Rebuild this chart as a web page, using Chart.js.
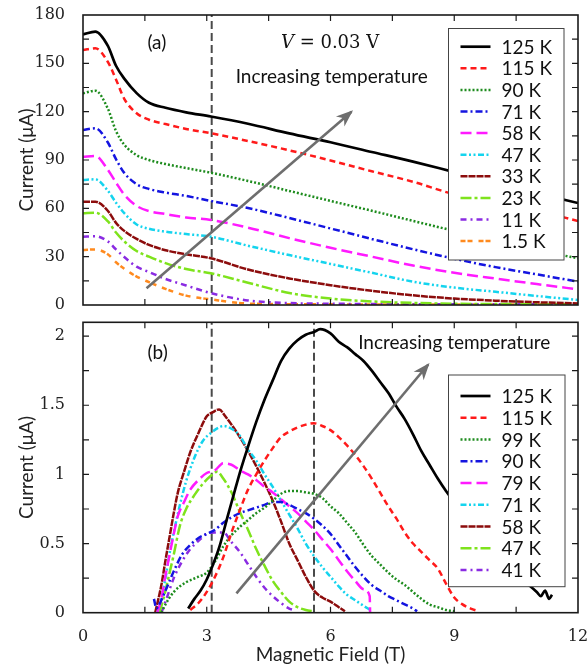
<!DOCTYPE html>
<html>
<head>
<meta charset="utf-8">
<script src="https://cdn.jsdelivr.net/npm/chart.js@4.4.1/dist/chart.umd.min.js"></script>
<style>
  body { margin: 0; background: #fff; width: 587px; height: 670px; position: relative; overflow: hidden; }
  #boxA { position: absolute; left: 0; top: 0; width: 587px; height: 318px; }
  #boxB { position: absolute; left: 0; top: 318px; width: 587px; height: 352px; }
</style>
</head>
<body>
<div id="boxA"><canvas id="panelA"></canvas></div>
<div id="boxB"><canvas id="panelB"></canvas></div>
<script>
// ---- panel (a): current vs field, V = 0.03 V ----
const fieldA = [0, 0.3, 0.6, 0.8, 1.0, 1.3, 1.6, 2.0, 2.5, 3.1, 4, 5, 6, 7, 8, 9, 10, 11, 12];
const tempsA = ['125 K', '115 K', '90 K', '71 K', '58 K', '47 K', '33 K', '23 K', '11 K', '1.5 K'];
const currentA125 = [168, 169.7, 161, 148.5, 140.5, 131.5, 125.5, 122.4, 119.6, 117, 112.5, 106.5, 101, 95, 89, 82.5, 76, 69.5, 63.3];
const currentA115 = [158.3, 159.3, 151, 140, 128, 119, 115, 112.3, 109.3, 106.6, 101.8, 96, 89.7, 83, 76.5, 68.7, 63.7, 58.6, 52.1];
const currentA90 = [131.4, 133, 122, 108, 99.5, 93, 90, 87.5, 85, 82.1, 77, 70.8, 64.6, 58.5, 52.2, 46, 40, 34, 29];
const currentA71 = [108.6, 109.7, 101, 90.5, 82, 75, 72, 69.8, 67.7, 64.6, 60.2, 54, 47.5, 41, 34.6, 28.7, 23.5, 19, 14.5];
const currentA58 = [92, 92.5, 84, 76, 68.5, 61.5, 58.3, 56.5, 54.3, 52.8, 48, 41.5, 35.5, 30, 24.5, 20, 16.4, 13, 9.7];
const currentA47 = [77.6, 78, 71, 63.5, 57, 50, 47.3, 45.5, 44, 42.4, 36.8, 31, 25.5, 20, 14.5, 10.8, 8.2, 5.6, 3.1];
const currentA33 = [64.1, 64.1, 58.5, 51, 46, 41, 37.3, 34, 31.5, 29, 22, 16.5, 12.3, 8.8, 6, 4, 2.7, 1.7, 1];
const currentA23 = [56.9, 57.3, 52, 45, 39.5, 33.5, 30, 26, 22.3, 19.7, 13.8, 7.5, 4, 2.2, 1.3, 0.8, 0.6, 0.5, 0.5];
const currentA11 = [42.4, 42.7, 39.5, 34.5, 29.8, 23.8, 20.5, 16.2, 12.1, 7.4, 2.8, 1.2, 0.8, 0.6, 0.5, 0.5, 0.5, 0.5, 0.5];
const currentA1p5 = [34.1, 34.5, 31.5, 26.5, 22.5, 17.6, 14.2, 10, 5.8, 3.5, 0.9, 0.5, 0.4, 0.3, 0.3, 0.3, 0.3, 0.3, 0.3];
const markerA = [3.12];
const arrowAField = [1.54, 6.51];
const arrowACurrent = [10.4, 120];
const xTicksA = [0, 1.5, 3, 4.5, 6, 7.5, 9, 10.5, 12];
const yTicksA = [0, 15, 30, 45, 60, 75, 90, 105, 120, 135, 150, 165, 180];
const yLabelsA = [0, 30, 60, 90, 120, 150, 180];

// ---- panel (b) ----
const tempsB = ['125 K', '115 K', '99 K', '90 K', '79 K', '71 K', '58 K', '47 K', '41 K'];
const fieldB125 = [2.55, 2.7, 2.85, 3.0, 3.1, 3.3, 3.5, 3.65, 3.8, 4.0, 4.2, 4.4, 4.6, 4.8, 5.0, 5.2, 5.4, 5.6, 5.75, 6.0, 6.2, 6.4, 6.6, 6.8, 7.0, 7.2, 7.4, 7.6, 7.8, 8.0, 8.2, 8.4, 8.6, 8.8, 9.0, 9.5, 10.0, 10.5, 10.85, 11.0, 11.1, 11.2, 11.3, 11.37];
const currentB125 = [0.03, 0.1, 0.16, 0.24, 0.31, 0.47, 0.69, 0.85, 1.01, 1.2, 1.38, 1.54, 1.68, 1.82, 1.91, 1.97, 2.01, 2.03, 2.05, 2.02, 1.96, 1.92, 1.87, 1.82, 1.75, 1.67, 1.59, 1.49, 1.4, 1.29, 1.17, 1.07, 0.97, 0.88, 0.8, 0.6, 0.43, 0.27, 0.19, 0.15, 0.12, 0.16, 0.1, 0.13];
const fieldB115 = [2.6, 2.8, 3.0, 3.2, 3.4, 3.6, 3.8, 4.0, 4.2, 4.4, 4.6, 4.8, 5.0, 5.2, 5.4, 5.6, 5.8, 6.0, 6.2, 6.4, 6.6, 6.8, 7.0, 7.2, 7.4, 7.6, 7.8, 8.0, 8.2, 8.4, 8.6, 8.8, 9.0, 9.2, 9.4, 9.6];
const currentB115 = [0.02, 0.07, 0.15, 0.26, 0.4, 0.58, 0.74, 0.89, 1.0, 1.1, 1.19, 1.27, 1.31, 1.34, 1.36, 1.37, 1.35, 1.32, 1.27, 1.21, 1.14, 1.06, 0.97, 0.87, 0.77, 0.68, 0.58, 0.5, 0.44, 0.38, 0.32, 0.21, 0.11, 0.06, 0.03, 0.01];
const fieldB99 = [1.9, 2.0, 2.2, 2.5, 2.8, 3.0, 3.2, 3.4, 3.6, 3.8, 4.0, 4.2, 4.4, 4.6, 4.8, 5.0, 5.2, 5.4, 5.6, 5.8, 6.0, 6.2, 6.4, 6.6, 6.8, 7.0, 7.2, 7.4, 7.6, 7.8, 8.0, 8.2, 8.4, 8.6, 8.8, 9.0];
const currentB99 = [0.0, 0.06, 0.15, 0.22, 0.26, 0.29, 0.37, 0.48, 0.56, 0.62, 0.67, 0.72, 0.76, 0.81, 0.86, 0.88, 0.88, 0.87, 0.86, 0.83, 0.77, 0.72, 0.65, 0.58, 0.49, 0.41, 0.35, 0.29, 0.24, 0.2, 0.15, 0.1, 0.06, 0.04, 0.02, 0.01];
const fieldB90 = [1.72, 1.78, 1.85, 2.0, 2.2, 2.4, 2.6, 2.8, 3.0, 3.2, 3.4, 3.6, 3.8, 4.0, 4.2, 4.4, 4.6, 4.8, 5.0, 5.2, 5.4, 5.6, 5.8, 6.0, 6.2, 6.4, 6.6, 6.8, 7.0, 7.2, 7.4, 7.6, 7.8, 8.0, 8.1];
const currentB90 = [0.1, 0.03, 0.06, 0.16, 0.3, 0.42, 0.49, 0.54, 0.57, 0.6, 0.65, 0.69, 0.72, 0.74, 0.76, 0.78, 0.8, 0.8, 0.78, 0.75, 0.72, 0.68, 0.63, 0.57, 0.49, 0.41, 0.33, 0.26, 0.2, 0.16, 0.12, 0.09, 0.06, 0.03, 0.01];
const fieldB79 = [1.8, 1.9, 2.0, 2.1, 2.2, 2.3, 2.45, 2.6, 2.8, 3.0, 3.2, 3.4, 3.6, 3.8, 4.0, 4.2, 4.4, 4.6, 4.8, 5.0, 5.2, 5.4, 5.6, 5.8, 6.0, 6.2, 6.4, 6.6, 6.8, 6.95, 6.96];
const currentB79 = [0.0, 0.1, 0.27, 0.42, 0.57, 0.7, 0.8, 0.89, 0.96, 1.01, 1.03, 1.08, 1.07, 1.03, 1.0, 0.96, 0.91, 0.87, 0.82, 0.77, 0.72, 0.66, 0.6, 0.53, 0.46, 0.38, 0.3, 0.23, 0.17, 0.12, 0.0];
const fieldB71 = [1.8, 1.9, 2.0, 2.1, 2.2, 2.35, 2.5, 2.7, 2.9, 3.1, 3.3, 3.4, 3.6, 3.8, 4.0, 4.2, 4.4, 4.6, 4.8, 5.0, 5.2, 5.4, 5.6, 5.8, 6.0, 6.2, 6.4, 6.6, 6.8, 6.96];
const currentB71 = [0.0, 0.1, 0.25, 0.43, 0.58, 0.78, 0.95, 1.12, 1.24, 1.3, 1.34, 1.35, 1.33, 1.28, 1.18, 1.1, 1.0, 0.91, 0.81, 0.71, 0.61, 0.5, 0.41, 0.33, 0.26, 0.19, 0.13, 0.09, 0.05, 0.02];
const fieldB58 = [1.75, 1.9, 2.0, 2.1, 2.2, 2.3, 2.45, 2.6, 2.8, 3.0, 3.15, 3.3, 3.45, 3.6, 3.8, 4.0, 4.2, 4.4, 4.6, 4.8, 5.0, 5.2, 5.4, 5.6, 5.8, 6.0, 6.2, 6.35];
const currentB58 = [0.0, 0.2, 0.38, 0.55, 0.72, 0.87, 1.02, 1.16, 1.3, 1.42, 1.45, 1.47, 1.42, 1.36, 1.27, 1.17, 1.06, 0.94, 0.81, 0.66, 0.5, 0.38, 0.26, 0.16, 0.11, 0.08, 0.04, 0.01];
const fieldB47 = [1.85, 1.95, 2.1, 2.2, 2.35, 2.5, 2.7, 2.9, 3.1, 3.25, 3.4, 3.6, 3.8, 4.0, 4.2, 4.4, 4.6, 4.8, 5.0, 5.2, 5.4, 5.6];
const currentB47 = [0.0, 0.1, 0.29, 0.42, 0.63, 0.75, 0.85, 0.93, 0.99, 1.02, 0.97, 0.87, 0.73, 0.6, 0.46, 0.34, 0.23, 0.15, 0.08, 0.04, 0.02, 0.01];
const fieldB41 = [1.9, 2.0, 2.2, 2.4, 2.6, 2.8, 3.0, 3.2, 3.4, 3.6, 3.8, 4.0, 4.2, 4.4, 4.6, 4.8, 5.0, 5.1];
const currentB41 = [0.0, 0.08, 0.25, 0.37, 0.46, 0.52, 0.57, 0.58, 0.58, 0.51, 0.44, 0.35, 0.26, 0.18, 0.12, 0.07, 0.03, 0.02];
const markerB = [3.12, 5.6];
const arrowBField = [3.72, 8.37];
const arrowBCurrent = [0.14, 1.795];
const xTicksB = [0, 1.5, 3, 4.5, 6, 7.5, 9, 10.5, 12];
const xLabelsB = [0, 3, 6, 9, 12];
const yTicksB = [0, 0.25, 0.5, 0.75, 1, 1.25, 1.5, 1.75, 2];
const yLabelsB = [0, 0.5, 1, 1.5, 2];

// line looks, one per legend row
const looks = [
  { color: '#000000', dash: [], width: 2.7 },
  { color: '#ff1a1a', dash: [6, 4] },
  { color: '#1e8c1e', dash: [2, 2] },
  { color: '#1414e0', dash: [7, 3, 2, 3] },
  { color: '#ff1aff', dash: [11, 5] },
  { color: '#14d4ee', dash: [6, 2.5, 2, 2.5, 2, 2.5] },
  { color: '#8c0c0c', dash: [7, 1] },
  { color: '#7ee31c', dash: [11, 3, 3, 3] },
  { color: '#8a2be2', dash: [6, 4, 2, 4] },
  { color: '#ff8a1e', dash: [5, 2, 5, 6] }
];

const sansFont = 'Lato';
const serifFont = 'DejaVu Serif';

function curve(label, xs, ys, look) {
  return {
    label: label,
    data: xs.map((x, i) => ({ x: x, y: ys[i] })),
    borderColor: look.color,
    borderWidth: look.width || 2.5,
    borderDash: look.dash,
    borderCapStyle: 'butt',
    pointRadius: 0,
    cubicInterpolationMode: 'monotone',
    fill: false,
    order: 0
  };
}

function guide(x, ymax) {
  return {
    helper: true,
    data: [{ x: x, y: 0 }, { x: x, y: ymax }],
    borderColor: '#4a4a4a',
    borderWidth: 2,
    borderDash: [8, 4],
    pointRadius: 0,
    order: 20
  };
}

function arrowLine(xs, ys) {
  return {
    helper: true,
    data: xs.map((x, i) => ({ x: x, y: ys[i] })),
    borderColor: '#6e6e6e',
    borderWidth: 2.6,
    pointRadius: 0,
    order: -1
  };
}

// draws arrow head, notes, legend box, frame and inward ticks
const panelDecor = {
  id: 'panelDecor',
  afterDatasetsDraw(chart, args, o) {
    const ctx = chart.ctx, a = chart.chartArea;
    const sx = chart.scales.x, sy = chart.scales.y;
    ctx.save();

    // arrow head
    const x1 = sx.getPixelForValue(o.arrow.field[0]), y1 = sy.getPixelForValue(o.arrow.current[0]);
    const x2 = sx.getPixelForValue(o.arrow.field[1]), y2 = sy.getPixelForValue(o.arrow.current[1]);
    const ang = Math.atan2(y2 - y1, x2 - x1);
    const c = Math.cos(ang), s = Math.sin(ang);
    ctx.fillStyle = '#6e6e6e';
    ctx.beginPath();
    ctx.moveTo(x2 + 2 * c, y2 + 2 * s);
    ctx.lineTo(x2 - 15 * c + 6.5 * s, y2 - 15 * s - 6.5 * c);
    ctx.lineTo(x2 - 10 * c, y2 - 10 * s);
    ctx.lineTo(x2 - 15 * c - 6.5 * s, y2 - 15 * s + 6.5 * c);
    ctx.closePath();
    ctx.fill();

    // notes
    ctx.fillStyle = '#111';
    ctx.textBaseline = 'middle';
    o.notes.forEach(n => {
      const px = sx.getPixelForValue(n.x), py = sy.getPixelForValue(n.y);
      let total = 0;
      n.parts.forEach(p => { ctx.font = p[1]; total += ctx.measureText(p[0]).width; });
      let cur = px - total / 2;
      ctx.textAlign = 'left';
      n.parts.forEach(p => { ctx.font = p[1]; ctx.fillText(p[0], cur, py); cur += ctx.measureText(p[0]).width; });
    });

    // legend box
    const lg = o.legend;
    ctx.fillStyle = '#fff';
    ctx.fillRect(lg.left, lg.top, lg.width, lg.height);
    ctx.strokeStyle = '#444';
    ctx.lineWidth = 1;
    ctx.strokeRect(lg.left, lg.top, lg.width, lg.height);
    let row = 0;
    chart.data.datasets.forEach(ds => {
      if (ds.helper) return;
      const yy = lg.firstRow + row * lg.step;
      ctx.strokeStyle = ds.borderColor;
      ctx.lineWidth = ds.borderWidth;
      ctx.setLineDash(ds.borderDash);
      ctx.beginPath();
      ctx.moveTo(lg.left + 12, yy);
      ctx.lineTo(lg.left + 42, yy);
      ctx.stroke();
      ctx.setLineDash([]);
      ctx.fillStyle = '#111';
      ctx.font = '19px ' + sansFont;
      ctx.textAlign = 'left';
      ctx.fillText(ds.label, lg.left + 53, yy + 1);
      row++;
    });

    // frame
    ctx.strokeStyle = '#1a1a1a';
    ctx.lineWidth = 1.6;
    ctx.strokeRect(a.left, a.top, a.right - a.left, a.bottom - a.top);

    // inward ticks on all four sides
    ctx.lineWidth = 1.2;
    ctx.beginPath();
    o.xTicks.forEach(v => {
      const p = sx.getPixelForValue(v);
      if (p <= a.left + 1 || p >= a.right - 1) return;
      ctx.moveTo(p, a.bottom); ctx.lineTo(p, a.bottom - 6);
      ctx.moveTo(p, a.top); ctx.lineTo(p, a.top + 6);
    });
    o.yTicks.forEach(v => {
      const p = sy.getPixelForValue(v);
      if (p <= a.top + 1 || p >= a.bottom - 1) return;
      ctx.moveTo(a.left, p); ctx.lineTo(a.left + 6, p);
      ctx.moveTo(a.right, p); ctx.lineTo(a.right - 6, p);
    });
    ctx.stroke();
    ctx.restore();
  }
};

function noPad(s) { s.paddingTop = 0; s.paddingBottom = 0; s.paddingLeft = 0; s.paddingRight = 0; }

// ---- chart (a) ----
const dataA = [currentA125, currentA115, currentA90, currentA71, currentA58, currentA47, currentA33, currentA23, currentA11, currentA1p5];
const setsA = dataA.map((ys, i) => curve(tempsA[i], fieldA, ys, looks[i]));
markerA.forEach(m => setsA.push(guide(m, 180)));
setsA.push(arrowLine(arrowAField, arrowACurrent));

new Chart(document.getElementById('panelA'), {
  type: 'line',
  data: { datasets: setsA },
  options: {
    responsive: true,
    maintainAspectRatio: false,
    animation: false,
    events: [],
    layout: { padding: { top: 15, right: 9, bottom: 13, left: 0 } },
    scales: {
      x: {
        type: 'linear', min: 0, max: 12,
        grid: { display: false }, border: { display: false },
        ticks: { display: false },
        afterFit: s => { s.height = 0; noPad(s); }
      },
      y: {
        min: 0, max: 180,
        grid: { display: false }, border: { display: false },
        afterBuildTicks: s => { s.ticks = yTicksA.map(v => ({ value: v })); },
        ticks: {
          autoSkip: false, padding: 10, color: '#222',
          font: { family: serifFont, size: 16 },
          callback: v => yLabelsA.includes(v) ? String(v) : ''
        },
        title: { display: true, text: 'Current (μA)', color: '#222', font: { family: sansFont, size: 19 }, padding: { top: 15, bottom: 0 } },
        afterFit: s => { s.width = 83; noPad(s); }
      }
    },
    plugins: {
      legend: { display: false },
      tooltip: { enabled: false },
      panelDecor: {
        arrow: { field: arrowAField, current: arrowACurrent },
        notes: [
          { x: 1.79, y: 162.5, parts: [['(a)', '19px ' + sansFont]] },
          { x: 5.99, y: 162.5, parts: [['V', 'italic 18px ' + serifFont], [' = 0.03 V', '18px ' + serifFont]] },
          { x: 6.03, y: 141.5, parts: [['Increasing temperature', '19px ' + sansFont]] }
        ],
        legend: { left: 448.5, top: 28.5, width: 115.5, height: 231.5, firstRow: 46.7, step: 21.6 },
        xTicks: xTicksA, yTicks: yTicksA
      }
    }
  },
  plugins: [panelDecor]
});

// ---- chart (b) ----
const pairsB = [
  [fieldB125, currentB125], [fieldB115, currentB115], [fieldB99, currentB99],
  [fieldB90, currentB90], [fieldB79, currentB79], [fieldB71, currentB71],
  [fieldB58, currentB58], [fieldB47, currentB47], [fieldB41, currentB41]
];
const setsB = pairsB.map((p, i) => curve(tempsB[i], p[0], p[1], looks[i]));
markerB.forEach(m => setsB.push(guide(m, 2.1)));
setsB.push(arrowLine(arrowBField, arrowBCurrent));

new Chart(document.getElementById('panelB'), {
  type: 'line',
  data: { datasets: setsB },
  options: {
    responsive: true,
    maintainAspectRatio: false,
    animation: false,
    events: [],
    layout: { padding: { top: 4.3, right: 9, bottom: 0, left: 0 } },
    scales: {
      x: {
        type: 'linear', min: 0, max: 12,
        grid: { display: false }, border: { display: false },
        afterBuildTicks: s => { s.ticks = xTicksB.map(v => ({ value: v })); },
        ticks: {
          autoSkip: false, maxRotation: 0, padding: 7, color: '#222',
          font: { family: serifFont, size: 16 },
          callback: v => xLabelsB.includes(v) ? String(v) : ''
        },
        title: { display: true, text: 'Magnetic Field (T)', color: '#222', font: { family: sansFont, size: 19 }, padding: { top: 0, bottom: 4 } },
        afterFit: s => { s.height = 57.3; noPad(s); }
      },
      y: {
        min: 0, max: 2.1,
        grid: { display: false }, border: { display: false },
        afterBuildTicks: s => { s.ticks = yTicksB.map(v => ({ value: v })); },
        ticks: {
          autoSkip: false, padding: 10, color: '#222',
          font: { family: serifFont, size: 16 },
          callback: v => yLabelsB.includes(v) ? String(v) : ''
        },
        title: { display: true, text: 'Current (μA)', color: '#222', font: { family: sansFont, size: 19 }, padding: { top: 15, bottom: 0 } },
        afterFit: s => { s.width = 83; noPad(s); }
      }
    },
    plugins: {
      legend: { display: false },
      tooltip: { enabled: false },
      panelDecor: {
        arrow: { field: arrowBField, current: arrowBCurrent },
        notes: [
          { x: 1.81, y: 1.88, parts: [['(b)', '19px ' + sansFont]] },
          { x: 9.0, y: 1.95, parts: [['Increasing temperature', '19px ' + sansFont]] }
        ],
        legend: { left: 448.5, top: 57, width: 116.5, height: 211.7, firstRow: 78, step: 21.75 },
        xTicks: xTicksB, yTicks: yTicksB
      }
    }
  },
  plugins: [panelDecor]
});
</script>
</body>
</html>
